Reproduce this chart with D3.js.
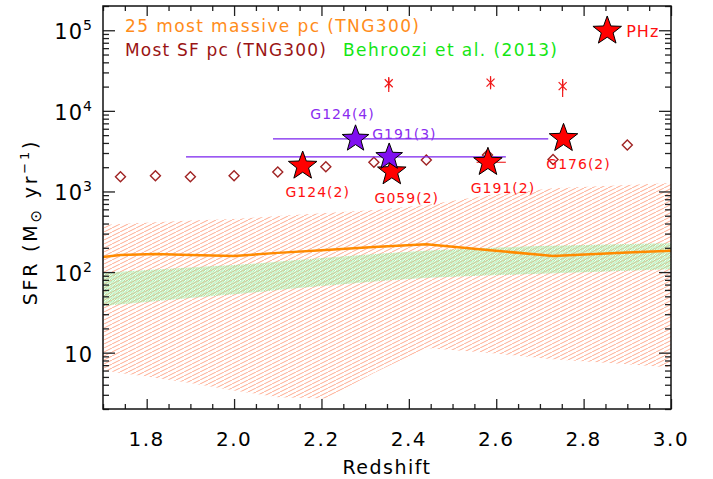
<!DOCTYPE html>
<html>
<head>
<meta charset="utf-8">
<script src="https://cdn.jsdelivr.net/npm/d3@7"></script>
<style>
  body { margin: 0; background: #fff; }
  text { font-family: "DejaVu Sans", sans-serif; }
</style>
</head>
<body>
<div id="chart"></div>
<script>
// axis tick labels
const xTicks = [1.8, 2.0, 2.2, 2.4, 2.6, 2.8, 3.0];
const yTicks = [10, 100, 1000, 10000, 100000];

// 25 most massive pc (TNG300): median SFR and min/max envelope per snapshot
const snapZ      = [1.67, 1.74, 1.82, 1.90, 2.00, 2.10, 2.21, 2.32, 2.44, 2.58, 2.73, 2.90, 3.01];
const massiveMed = [148, 163, 168, 163, 158, 173, 188, 205, 221, 188, 158, 175, 185];
const massiveLo  = [6.5, 5.6, 4.9, 4.2, 3.4, 2.8, 2.7, 5.6, 11.4, 10.0, 8.3, 7.2, 6.5];
const massiveHi  = [375, 395, 415, 435, 455, 495, 540, 590, 680, 900, 1100, 1200, 1280];

// most SF pc (TNG300)
const sfZ   = [1.74, 1.82, 1.90, 2.00, 2.10, 2.21, 2.32, 2.44, 2.58, 2.73, 2.90];
const sfVal = [1520, 1570, 1520, 1570, 1740, 2030, 2300, 2450, 2830, 2500, 3770];

// Behroozi et al. (2013) band
const behZ  = [1.70, 1.85, 2.00, 2.20, 2.40, 2.70, 3.00];
const behLo = [38, 45, 53, 67, 82, 95, 108];
const behHi = [98, 110, 122, 149, 179, 210, 228];

// observed protoclusters (red stars)
const starNames = ["G124(2)", "G059(2)", "G191(2)", "G176(2)", "PHz"];
const starZ     = [2.157, 2.361, 2.581, 2.754, 2.854];
const starSFR   = [2070, 1760, 2300, 4560, 98000];

// purple stars with redshift ranges
const purpNames = ["G124(4)", "G191(3)"];
const purpZ     = [2.278, 2.355];
const purpSFR   = [4500, 2680];
const purpZmin  = [2.089, 1.890];
const purpZmax  = [2.719, 2.622];

// red asterisks with error bars
const astZ   = [2.354, 2.587, 2.752];
const astSFR = [22000, 22400, 20300];
const astLo  = [17100, 18500, 14900];
const astHi  = [26300, 27000, 24800];

const width = 713, height = 479;
const margin = { top: 6, right: 42, bottom: 70, left: 103 };

const x = d3.scaleLinear().domain([1.7, 3.0]).range([margin.left, width - margin.right]);
const y = d3.scaleLog().domain([2, 2e5]).range([height - margin.bottom, margin.top]);

const svg = d3.select('#chart').append('svg')
    .attr('width', width)
    .attr('height', height);

const defs = svg.append('defs');
defs.append('clipPath').attr('id', 'clip')
    .append('rect')
    .attr('x', margin.left).attr('y', margin.top)
    .attr('width', width - margin.left - margin.right)
    .attr('height', height - margin.top - margin.bottom);

// hatch patterns
defs.append('pattern').attr('id', 'hatchO')
    .attr('patternUnits', 'userSpaceOnUse')
    .attr('width', 8).attr('height', 4)
    .append('line')
    .attr('x1', 0).attr('y1', 4).attr('x2', 8).attr('y2', 0)
    .attr('stroke', '#ffab90').attr('stroke-width', 1);

defs.append('pattern').attr('id', 'hatchG')
    .attr('patternUnits', 'userSpaceOnUse')
    .attr('width', 2.5).attr('height', 2.5)
    .append('line')
    .attr('x1', 0).attr('y1', 2.5).attr('x2', 2.5).attr('y2', 0)
    .attr('stroke', '#9be89b').attr('stroke-width', 1);

const plot = svg.append('g').attr('clip-path', 'url(#clip)');

// orange envelope
const massive = snapZ.map((z, i) => ({ z, lo: massiveLo[i], hi: massiveHi[i], med: massiveMed[i] }));
plot.append('path')
    .datum(massive)
    .attr('fill', 'url(#hatchO)')
    .attr('d', d3.area().x(d => x(d.z)).y0(d => y(d.lo)).y1(d => y(d.hi)));

// Behroozi band
const beh = behZ.map((z, i) => ({ z, lo: behLo[i], hi: behHi[i] }));
plot.append('path')
    .datum(beh)
    .attr('fill', 'url(#hatchG)')
    .attr('d', d3.area().x(d => x(d.z)).y0(d => y(d.lo)).y1(d => y(d.hi)).curve(d3.curveMonotoneX));

// median line
plot.append('path')
    .datum(massive)
    .attr('fill', 'none')
    .attr('stroke', '#ff8a00')
    .attr('stroke-width', 2.5)
    .attr('d', d3.line().x(d => x(d.z)).y(d => y(d.med)));

// most SF pc diamonds
plot.selectAll('.diamond')
    .data(sfZ.map((z, i) => ({ z, v: sfVal[i] })))
    .join('path')
    .attr('class', 'diamond')
    .attr('transform', d => `translate(${x(d.z)},${y(d.v)})`)
    .attr('d', 'M0,-5L5,0L0,5L-5,0Z')
    .attr('fill', 'white')
    .attr('stroke', '#a02424')
    .attr('stroke-width', 1.4);

// purple redshift ranges
plot.selectAll('.prange')
    .data(purpZ.map((z, i) => ({ z, v: purpSFR[i], a: purpZmin[i], b: purpZmax[i] })))
    .join('line')
    .attr('x1', d => x(d.a)).attr('x2', d => x(d.b))
    .attr('y1', d => y(d.v)).attr('y2', d => y(d.v))
    .attr('stroke', '#7a22ee').attr('stroke-width', 1.3);

// asterisks with error bars
const ast = plot.selectAll('.ast')
    .data(astZ.map((z, i) => ({ z, v: astSFR[i], lo: astLo[i], hi: astHi[i] })))
    .join('g')
    .attr('stroke', '#f01818').attr('stroke-width', 1.2);
ast.append('line')
    .attr('x1', d => x(d.z)).attr('x2', d => x(d.z))
    .attr('y1', d => y(d.lo)).attr('y2', d => y(d.hi));
ast.append('path')
    .attr('transform', d => `translate(${x(d.z)},${y(d.v)})`)
    .attr('d', 'M-4,-4L4,4M-4,4L4,-4M0,-5L0,5');

// G191(2) redshift error
plot.append('line')
    .attr('x1', x(2.555)).attr('x2', x(2.622))
    .attr('y1', y(starSFR[2])).attr('y2', y(starSFR[2]))
    .attr('stroke', '#f04040').attr('stroke-width', 1.3);

// star shape
function starPath(R, r) {
    const pts = [];
    for (let k = 0; k < 10; k++) {
        const a = -Math.PI / 2 + k * Math.PI / 5;
        const rad = k % 2 === 0 ? R : r;
        pts.push([rad * Math.cos(a), rad * Math.sin(a)]);
    }
    return 'M' + pts.map(p => p.join(',')).join('L') + 'Z';
}

// red stars + labels
const reds = starZ.map((z, i) => ({ z, v: starSFR[i], name: starNames[i] }));
svg.selectAll('.rstar')
    .data(reds)
    .join('path')
    .attr('transform', d => `translate(${x(d.z)},${y(d.v)})`)
    .attr('d', starPath(15, 6.2))
    .attr('fill', '#ff0000')
    .attr('stroke', '#000')
    .attr('stroke-width', 1);

svg.selectAll('.rlabel')
    .data(reds)
    .join('text')
    .attr('x', d => d.name === 'PHz' ? x(d.z) + 19 : x(d.z) + 15)
    .attr('y', d => d.name === 'PHz' ? y(d.v) + 6 : y(d.v) + 31)
    .attr('text-anchor', d => d.name === 'PHz' ? 'start' : 'middle')
    .attr('fill', '#ff1010')
    .attr('font-size', d => d.name === 'PHz' ? 16 : 14)
    .attr('letter-spacing', 1)
    .text(d => d.name);

// purple labels then stars
const purps = purpZ.map((z, i) => ({ z, v: purpSFR[i], name: purpNames[i] }));
svg.selectAll('.plabel')
    .data(purps)
    .join('text')
    .attr('x', (d, i) => i === 0 ? x(d.z) - 13 : x(d.z) - 17)
    .attr('y', (d, i) => y(d.v) - (i === 0 ? 20 : 18))
    .attr('text-anchor', (d, i) => i === 0 ? 'middle' : 'start')
    .attr('fill', '#8a2cf0')
    .attr('font-size', 14)
    .attr('letter-spacing', 1)
    .text(d => d.name);

svg.selectAll('.pstar')
    .data(purps)
    .join('path')
    .attr('transform', d => `translate(${x(d.z)},${y(d.v)})`)
    .attr('d', starPath(14, 5.8))
    .attr('fill', '#8010f0')
    .attr('stroke', '#000')
    .attr('stroke-width', 1);

// ticks on all four sides
const minorX = d3.range(1.7, 3.0001, 0.05).map(v => +v.toFixed(2)).filter(v => !xTicks.includes(v));
const minorY = [];
for (let e = 0; e <= 5; e++) {
    for (let k = 2; k <= 9; k++) {
        const v = k * Math.pow(10, e);
        if (v >= 2 && v <= 2e5) minorY.push(v);
    }
}

function addAxis(axis, tx, ty) {
    const g = svg.append('g').attr('transform', `translate(${tx},${ty})`).call(axis);
    g.select('.domain').remove();
    g.selectAll('line').attr('stroke', '#222').attr('stroke-width', 1.3);
}
const bottomY = height - margin.bottom, rightX = width - margin.right;
addAxis(d3.axisBottom(x).tickValues(xTicks).tickSize(-10).tickFormat(''), 0, bottomY);
addAxis(d3.axisBottom(x).tickValues(minorX).tickSize(-5).tickFormat(''), 0, bottomY);
addAxis(d3.axisTop(x).tickValues(xTicks).tickSize(-10).tickFormat(''), 0, margin.top);
addAxis(d3.axisTop(x).tickValues(minorX).tickSize(-5).tickFormat(''), 0, margin.top);
addAxis(d3.axisLeft(y).tickValues(yTicks).tickSize(-12).tickFormat(''), margin.left, 0);
addAxis(d3.axisLeft(y).tickValues(minorY).tickSize(-6).tickFormat(''), margin.left, 0);
addAxis(d3.axisRight(y).tickValues(yTicks).tickSize(-12).tickFormat(''), rightX, 0);
addAxis(d3.axisRight(y).tickValues(minorY).tickSize(-6).tickFormat(''), rightX, 0);

// frame
svg.append('rect')
    .attr('x', margin.left).attr('y', margin.top)
    .attr('width', rightX - margin.left).attr('height', bottomY - margin.top)
    .attr('fill', 'none').attr('stroke', '#111').attr('stroke-width', 1.5);

// x tick labels
svg.selectAll('.xl')
    .data(xTicks)
    .join('text')
    .attr('x', d => x(d))
    .attr('y', bottomY + 37)
    .attr('text-anchor', 'middle')
    .attr('font-size', 20)
    .attr('letter-spacing', 1.5)
    .text(d => d.toFixed(1));

// y tick labels
const yl = svg.selectAll('.yl')
    .data(yTicks)
    .join('text')
    .attr('x', 93)
    .attr('y', d => y(d) + 9)
    .attr('text-anchor', 'end')
    .attr('font-size', 21)
    .attr('letter-spacing', 1);
yl.append('tspan').text('10');
yl.filter(d => d > 10).append('tspan')
    .attr('dy', -9).attr('font-size', 14)
    .text(d => Math.round(Math.log10(d)));

// axis titles
svg.append('text')
    .attr('x', (margin.left + rightX) / 2)
    .attr('y', 474)
    .attr('text-anchor', 'middle')
    .attr('font-size', 19)
    .attr('letter-spacing', 1.5)
    .text('Redshift');

const yt = svg.append('text')
    .attr('transform', 'translate(37,222) rotate(-90)')
    .attr('text-anchor', 'middle')
    .attr('font-size', 19)
    .attr('letter-spacing', 2.8);
yt.append('tspan').text('SFR (M');
yt.append('tspan').attr('dy', 4).attr('font-size', 15).text('\u2299');
yt.append('tspan').attr('dy', -4).text(' yr');
yt.append('tspan').attr('dy', -8).attr('font-size', 13).text('\u22121');
yt.append('tspan').attr('dy', 8).text(')');

// legend
svg.append('text')
    .attr('x', 125).attr('y', 32)
    .attr('font-size', 17)
    .attr('fill', '#ff8c1a')
    .attr('textLength', 294).attr('lengthAdjust', 'spacing')
    .text('25 most massive pc (TNG300)');
svg.append('text')
    .attr('x', 125).attr('y', 56)
    .attr('font-size', 17)
    .attr('fill', '#9a1414')
    .attr('textLength', 201).attr('lengthAdjust', 'spacing')
    .text('Most SF pc (TNG300)');
svg.append('text')
    .attr('x', 343).attr('y', 56)
    .attr('font-size', 17)
    .attr('fill', '#14e614')
    .attr('textLength', 214).attr('lengthAdjust', 'spacing')
    .text('Behroozi et al. (2013)');
</script>
</body>
</html>
